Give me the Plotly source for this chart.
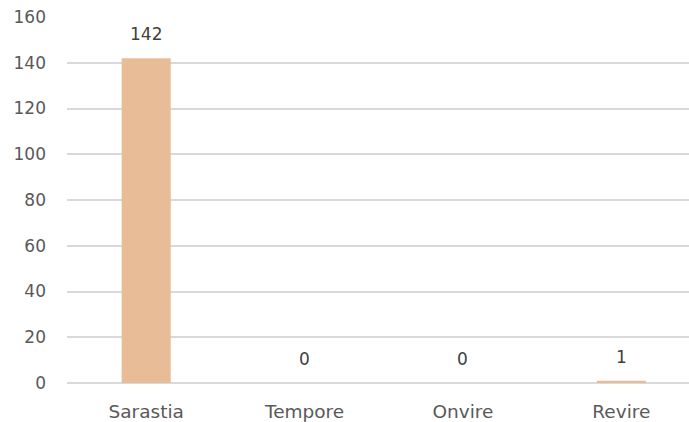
import plotly.graph_objects as go

categories = ["Sarastia", "Tempore", "Onvire", "Revire"]
values = [142, 0, 0, 1]
y_ticks = [0, 20, 40, 60, 80, 100, 120, 140, 160]

bar_color = "#E8BC96"
text_color = "#595959"
grid_color = "#D9D9D9"
font_family = "'DejaVu Sans', sans-serif"

fig = go.Figure()
fig.add_trace(go.Bar(
    x=categories,
    y=values,
    marker=dict(color=bar_color, line=dict(width=0)),
    width=0.31,
    hoverinfo="skip",
))

# value labels above each bar
for c, v in zip(categories, values):
    fig.add_annotation(
        x=c, y=v, text=str(v), showarrow=False,
        yanchor="middle", yshift=24,
        font=dict(family=font_family, size=17, color="#404040"),
    )

fig.update_layout(
    width=689, height=422,
    margin=dict(l=67, r=0, t=17, b=39),
    paper_bgcolor="white",
    plot_bgcolor="white",
    showlegend=False,
    font=dict(family=font_family, size=17, color=text_color),
)
fig.update_xaxes(
    range=[-0.5, 3.427],
    showgrid=False,
    showline=False,
    ticks="",
    ticklabelstandoff=15,
    tickfont=dict(family=font_family, size=18.5, color=text_color),
)
fig.update_yaxes(
    range=[0, 160],
    tickvals=y_ticks,
    showgrid=True,
    gridcolor=grid_color,
    gridwidth=1.5,
    zeroline=True,
    zerolinecolor=grid_color,
    zerolinewidth=1.5,
    showline=False,
    ticks="",
    ticklabelstandoff=20,
    tickfont=dict(family=font_family, size=17, color=text_color),
)

fig.write_html("out.html")
